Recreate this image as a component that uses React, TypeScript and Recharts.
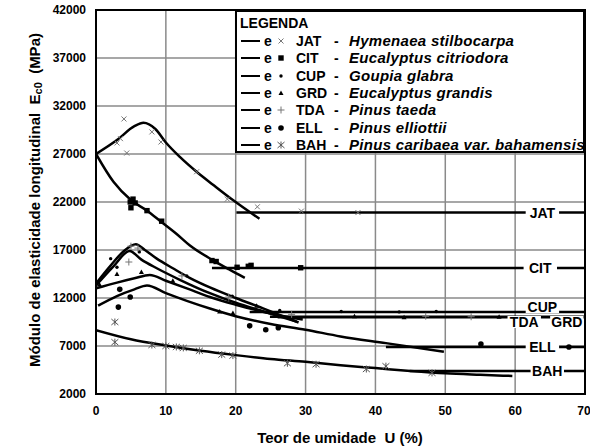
import React from "react";
import {
  ComposedChart,
  Line,
  Scatter,
  XAxis,
  YAxis,
  CartesianGrid,
  ReferenceArea,
  ReferenceDot,
  Legend,
} from "recharts";

type P = [number, number];

const uTicks = [0, 10, 20, 30, 40, 50, 60, 70];
const eTicks = [2000, 7000, 12000, 17000, 22000, 27000, 32000, 37000, 42000];

// curvas ajustadas (U, Ec0)
const jatCurve: P[] = [[0, 27000], [3, 28450], [5.5, 29900], [6.8, 30250], [8.5, 29600], [10, 28200], [12, 26700], [14.4, 25150], [16.8, 23770], [19.6, 22200], [23.4, 20250]];
const citCurve: P[] = [[0, 27000], [2.5, 24100], [5, 22200], [7.3, 21100], [9.4, 19900], [11.5, 18700], [13.4, 17500], [16.7, 15950], [19, 15000], [21.3, 14100]];
const cupCurve: P[] = [[0, 13500], [2, 15300], [4, 16900], [5.7, 17600], [7, 17000], [8.7, 16100], [11, 15100], [13.4, 14100], [16.3, 13100], [20, 12000], [24, 10900], [29, 9450]];
const tdaCurve: P[] = [[0, 13300], [2.5, 15300], [4.8, 16900], [6.5, 16000], [8.7, 15100], [12, 13900], [16.3, 12500], [20, 11500], [24, 10600], [28.7, 9550]];
const grdCurve: P[] = [[0, 13000], [3, 13600], [5.5, 14050], [7.7, 14400], [10, 13800], [13, 13000], [16.3, 12100], [20, 11300], [24, 10550], [29.6, 9750]];
const ellCurve: P[] = [[0.3, 11200], [3, 12200], [5.5, 12900], [7.3, 13300], [10, 12500], [13, 11700], [16.3, 10900], [20, 10100], [25, 9300], [30, 8700], [35, 8000], [41.5, 7300], [49.8, 6400]];
const bahCurve: P[] = [[0, 8650], [5, 7700], [10, 7050], [15, 6500], [20, 6050], [25, 5650], [30, 5350], [35, 5000], [40, 4700], [45, 4400], [50, 4150], [55, 4000], [59.6, 3880]];

// patamares acima do PSF
const jatFlat: P[] = [[20.1, 20900], [70, 20900]];
const citFlat: P[] = [[16.6, 15130], [70, 15130]];
const cupFlat: P[] = [[22, 10550], [70, 10550]];
const tdaFlat: P[] = [[24.9, 10050], [70, 10050]];
const grdFlat: P[] = [[26, 10000], [70, 10000]];
const ellFlat: P[] = [[41.5, 6900], [70, 6900]];
const bahFlat: P[] = [[44.9, 4400], [70, 4400]];

// pontos experimentais
const jatObs: P[] = [[3, 28150], [3.5, 28600], [4, 30650], [4.4, 27100], [8, 29300], [9.3, 28250], [14.4, 25150], [18.8, 22300], [23.1, 21500], [29.4, 21050], [37.5, 20900]];
const citObs: P[] = [[4.9, 22000], [5, 21400], [5.3, 22300], [5.6, 21900], [7.3, 21100], [9.4, 20000], [16.6, 15900], [17.2, 15800], [20.2, 15200], [21.8, 15300], [22.2, 15400], [29.3, 15150]];
const cupObs: P[] = [[2.1, 16100], [3, 15200], [6.2, 16800], [13, 14300], [19.5, 12200], [26.3, 10700], [35.1, 10600], [43.4, 10550], [48.7, 10600]];
const grdObs: P[] = [[0.5, 13400], [3, 14500], [6.5, 14700], [11, 13800], [17.7, 10600], [19.6, 10450], [23, 11200], [37, 10100], [44.1, 10000], [57.7, 10050]];
const tdaObs: P[] = [[4.7, 15750], [5, 17400], [6, 17200], [12.3, 14300], [19, 12100], [28, 10300], [47.2, 10100], [53.7, 10050]];
const ellObs: P[] = [[3.4, 12900], [3.2, 11050], [4.9, 12100], [22, 9100], [24.3, 8700], [26.1, 8900], [55.1, 7200], [67.7, 6900]];
const bahObs: P[] = [[2.7, 9500], [2.7, 7400], [8, 7100], [10, 7000], [11.5, 6900], [12.5, 6800], [14.8, 6500], [18, 6100], [19.6, 6000], [27.4, 5200], [31.5, 5100], [38.7, 4600], [41.5, 4900], [48.1, 4200]];

const codes = ["JAT", "CIT", "CUP", "GRD", "TDA", "ELL", "BAH"];
const names = [
  "Hymenaea stilbocarpa",
  "Eucalyptus citriodora",
  "Goupia glabra",
  "Eucalyptus grandis",
  "Pinus taeda",
  "Pinus elliottii",
  "Pinus caribaea var. bahamensis",
];
const marks = ["x", "sq", "dot", "tri", "plus", "big", "ast"];

const tagCodes = ["JAT", "CIT", "CUP", "TDA", "GRD", "ELL", "BAH"];
const tagU = [63.9, 63.6, 63.9, 61.3, 67.4, 63.9, 64.6];
const tagE = [20900, 15130, 11060, 9500, 9500, 6900, 4400];

const FONT = "'Liberation Sans', Arial, sans-serif";

const pts = (a: P[]) => a.map(([u, e]) => ({ u, e }));

function Mark({ kind, cx, cy }: { kind: string; cx: number; cy: number }) {
  if (kind === "x")
    return <path d={`M${cx - 2.5},${cy - 2.5}L${cx + 2.5},${cy + 2.5}M${cx - 2.5},${cy + 2.5}L${cx + 2.5},${cy - 2.5}`} stroke="#777" strokeWidth={1} />;
  if (kind === "sq") return <rect x={cx - 2.7} y={cy - 2.7} width={5.4} height={5.4} fill="#000" />;
  if (kind === "dot") return <circle cx={cx} cy={cy} r={1.7} fill="#000" />;
  if (kind === "tri") return <path d={`M${cx},${cy - 2.5}L${cx + 2.5},${cy + 2}L${cx - 2.5},${cy + 2}Z`} fill="#000" />;
  if (kind === "plus")
    return <path d={`M${cx - 3.5},${cy}L${cx + 3.5},${cy}M${cx},${cy - 3.5}L${cx},${cy + 3.5}`} stroke="#777" strokeWidth={1} />;
  if (kind === "big") return <circle cx={cx} cy={cy} r={2.8} fill="#000" />;
  return (
    <path
      d={`M${cx - 3.5},${cy - 3}L${cx + 3.5},${cy + 3}M${cx - 3.5},${cy + 3}L${cx + 3.5},${cy - 3}M${cx},${cy - 3.5}L${cx},${cy + 3.5}`}
      stroke="#555"
      strokeWidth={1}
    />
  );
}

function Tag(props: any) {
  const { cx, cy, text } = props;
  const w = text.length * 9.8 + 4;
  return (
    <g>
      <rect x={cx - w / 2} y={cy - 6} width={w} height={12} fill="#fff" />
      <text x={cx} y={cy} textAnchor="middle" dominantBaseline="central" fontFamily={FONT} fontWeight="bold" fontSize={14} fill="#000">
        {text}
      </text>
    </g>
  );
}

function LegendBox() {
  const txt = { position: "absolute" as const, fontWeight: 700, whiteSpace: "pre" as const };
  return (
    <div
      style={{
        position: "relative",
        width: 350,
        height: 143,
        boxSizing: "border-box",
        border: "2px solid #000",
        background: "#fff",
        fontFamily: FONT,
        fontWeight: 700,
        fontSize: 14,
        color: "#000",
        lineHeight: "16px",
      }}
    >
      <div style={{ ...txt, left: 3, top: 3 }}>LEGENDA</div>
      {codes.map((c, i) => (
        <div key={c} style={{ position: "absolute", left: 0, top: 21 + i * 17.3, height: 16, width: 346 }}>
          <span style={{ position: "absolute", left: 4, top: 7, width: 19, height: 2, background: "#000" }} />
          <span style={{ ...txt, left: 27 }}>e</span>
          <svg style={{ position: "absolute", left: 39, top: 3 }} width={10} height={10}>
            <Mark kind={marks[i]} cx={5} cy={5} />
          </svg>
          <span style={{ ...txt, left: 59 }}>{c}</span>
          <span style={{ ...txt, left: 97 }}>-</span>
          <span style={{ ...txt, left: 112, fontStyle: "italic", fontSize: 15, letterSpacing: 0.3 }}>{names[i]}</span>
        </div>
      ))}
    </div>
  );
}

function YTitle() {
  const x = 34;
  const y = 200;
  return (
    <text
      x={x}
      y={y}
      transform={`rotate(-90 ${x} ${y})`}
      textAnchor="middle"
      dominantBaseline="central"
      fontFamily={FONT}
      fontWeight="bold"
      fontSize={15}
      fill="#000"
      style={{ whiteSpace: "pre" }}
    >
      {"Módulo de elasticidade longitudinal  E"}
      <tspan fontSize={11} dy={4}>c0</tspan>
      <tspan dy={-4}>{"  (MPa)"}</tspan>
    </text>
  );
}

function XTitle() {
  return (
    <text x={340} y={437} textAnchor="middle" dominantBaseline="central" fontFamily={FONT} fontWeight="bold" fontSize={15} fill="#000" style={{ whiteSpace: "pre" }}>
      {"Teor de umidade  U (%)"}
    </text>
  );
}

const curves = [jatCurve, citCurve, cupCurve, tdaCurve, grdCurve, ellCurve, bahCurve];
const flats = [jatFlat, citFlat, cupFlat, tdaFlat, grdFlat, ellFlat, bahFlat];
const observed = [jatObs, citObs, cupObs, grdObs, tdaObs, ellObs, bahObs];

export default function App() {
  const tick = { fontFamily: FONT, fontSize: 12, fontWeight: "bold", fill: "#000" } as any;
  return (
    <div style={{ position: "absolute", left: 0, top: 0, width: 590, height: 447, background: "#fff" }}>
      <ComposedChart width={590} height={447} margin={{ top: 10, right: 5, bottom: 0, left: 0 }}>
        <CartesianGrid stroke="#8a8a8a" strokeWidth={1.5} />
        <XAxis
          dataKey="u"
          type="number"
          domain={[0, 70]}
          ticks={uTicks}
          allowDataOverflow
          height={53}
          tickSize={0}
          tickMargin={12}
          axisLine={false}
          tick={tick}
          label={{ content: () => <XTitle /> }}
        />
        <YAxis
          dataKey="e"
          type="number"
          domain={[2000, 42000]}
          ticks={eTicks}
          allowDataOverflow
          width={96}
          tickSize={0}
          tickMargin={10}
          axisLine={false}
          tick={tick}
          label={{ content: () => <YTitle /> }}
        />
        {observed.map((o, i) => (
          <Scatter
            key={"o" + i}
            data={pts(o)}
            isAnimationActive={false}
            shape={(p: any) => <Mark kind={marks[i]} cx={p.cx} cy={p.cy} />}
          />
        ))}
        {curves.map((c, i) => (
          <Line key={"c" + i} data={pts(c)} dataKey="e" type="monotone" stroke="#000" strokeWidth={2.5} dot={false} isAnimationActive={false} />
        ))}
        {flats.map((f, i) => (
          <Line key={"f" + i} data={pts(f)} dataKey="e" type="linear" stroke="#000" strokeWidth={2.5} dot={false} isAnimationActive={false} />
        ))}
        {tagCodes.map((t, i) => (
          <ReferenceDot key={t} x={tagU[i]} y={tagE[i]} r={1} shape={(p: any) => <Tag {...p} text={t} />} />
        ))}
        <ReferenceArea x1={0} x2={70} y1={2000} y2={42000} fill="none" fillOpacity={0} stroke="#000" strokeWidth={2} />
        <Legend
          layout="vertical"
          align="center"
          verticalAlign="middle"
          content={() => <LegendBox />}
          wrapperStyle={{ top: 10, left: 235, width: 350, height: 143 }}
        />
      </ComposedChart>
    </div>
  );
}
